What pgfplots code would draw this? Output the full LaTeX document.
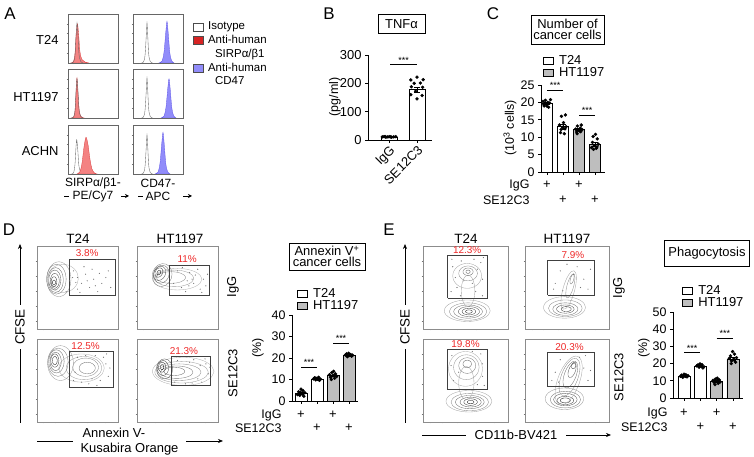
\documentclass[border=0pt]{standalone}
\usepackage{pgfplots}
\pgfplotsset{compat=1.18}
\usepackage{pgfplotstable}
\usepackage{fontspec}
\setmainfont{Liberation Sans}
\usetikzlibrary{arrows.meta}

\definecolor{histred}{RGB}{244,130,130}
\definecolor{histrededge}{RGB}{215,60,60}
\definecolor{legred}{RGB}{215,35,35}
\definecolor{histblue}{RGB}{145,140,250}
\definecolor{histblueedge}{RGB}{90,80,230}
\definecolor{barfill}{RGB}{190,190,190}
\definecolor{pctred}{RGB}{238,40,40}

\newcommand{\fs}[1]{\fontsize{#1}{#1}\selectfont}

\pgfplotstableread{
x y
1 0
0.924 0.383
0.707 0.707
0.383 0.924
0 1
-0.383 0.924
-0.707 0.707
-0.924 0.383
-1 0
-0.924 -0.383
-0.707 -0.707
-0.383 -0.924
0 -1
0.383 -0.924
0.707 -0.707
0.924 -0.383
1 0
}\unitcircle

\newcommand{\cn}[6]{\addplot[draw=black!#6, line width=0.35pt, smooth, tension=0.55, forget plot] table[x expr={#1+#3*\thisrow{x}*cos(#5)-#4*\thisrow{y}*sin(#5)}, y expr={#2+#3*\thisrow{x}*sin(#5)+#4*\thisrow{y}*cos(#5)}] {\unitcircle};}
\newcommand{\sig}[3]{\draw[line width=0.5pt] (axis cs:#1,#3) -- (axis cs:#2,#3) node[midway, above, inner sep=0.8bp, font=\fs{9}] {***};}
\newcommand{\pct}[3]{\node[text=pctred, font=\fs{10}] at (axis cs:#1,#2) {#3};}
\newcommand{\plus}[2]{\node[font=\fs{13}, yshift=#2] at (axis cs:#1,0) {+};}
\newcommand{\barlegend}{%
\addlegendimage{legend image code/.code={\draw[fill=white, draw=black, line width=0.5pt] (0bp,-3.5bp) rectangle (10bp,3.5bp);}}
\addlegendentry{T24}
\addlegendimage{legend image code/.code={\draw[fill=barfill, draw=black, line width=0.5pt] (0bp,-3.5bp) rectangle (10bp,3.5bp);}}
\addlegendentry{HT1197}}

\pgfplotsset{
  hist/.style={scale only axis, width=50bp, height=49bp, xmin=0, xmax=1, ymin=0, ymax=1,
    axis line style={black!60, line width=0.4pt},
    xtick={0.1,0.3,0.5,0.7,0.9}, ytick={0.2,0.4,0.6,0.8}, xticklabels={}, yticklabels={},
    tick pos=left, tick align=outside, major tick length=1.2bp, tick style={black!55, line width=0.3pt}},
  flow/.style={scale only axis, height=83bp, xmin=0, xmax=100, ymin=0, ymax=100,
    axis line style={black!45, line width=0.4pt},
    xtick={8,22,40,62,84}, ytick={10,28,46,64,82}, xticklabels={}, yticklabels={},
    tick pos=left, tick align=outside, major tick length=1.3bp, tick style={black!55, line width=0.3pt}},
  barax/.style={scale only axis, axis x line*=bottom, axis y line*=left, ymin=0,
    xtick={0,1,2,3}, xticklabels={}, tick align=outside, major tick length=3bp,
    tick style={black, line width=0.6pt}, axis line style={black, line width=0.6pt},
    ticklabel style={font=\fs{12.5}}, /pgf/number format/assume math mode=true, clip=false},
  t24bar/.style={ybar, bar width=#1, bar shift=0pt, fill=white, draw=black, line width=0.5pt, forget plot},
  htbar/.style={ybar, bar width=#1, bar shift=0pt, fill=barfill, draw=black, line width=0.5pt, forget plot},
  dots/.style={only marks, mark=*, mark size=1.5bp, black, forget plot},
  sem/.style={draw=none, mark=none, forget plot, error bars/.cd, y dir=both, y explicit, error bar style={line width=0.5pt, black}, error mark options={rotate=90, mark size=3bp, black, line width=0.5pt}},
  fdots/.style={only marks, mark=*, mark size=0.3bp, black!55, forget plot},
  gate/.style={black!75, line width=0.45pt, forget plot},
  barleg/.style={legend style={at={#1}, anchor=north west, draw=none, fill=none, font=\fs{13}, inner sep=0pt, row sep=-2.5bp, cells={anchor=west}, /tikz/every odd column/.append style={column sep=3.5bp}}},
}

\begin{document}
\begin{tikzpicture}[x=1bp, y=1bp]
\useasboundingbox (0,0) rectangle (754,457);

% ===================== Panel A =====================
\node[font=\fs{17}] at (10,443) {A};
\node[anchor=east, font=\fs{13}] at (62,417) {T24};
\node[anchor=east, font=\fs{13}] at (62,360) {HT1197};
\node[anchor=east, font=\fs{13}] at (62,306) {ACHN};

% T24 SIRP
\begin{axis}[hist, at={(68bp,394bp)}, anchor=south west]
\addplot[fill=histred, draw=histrededge, line width=0.3pt, smooth] coordinates {(0.06,0)(0.11,0.03)(0.14,0.2)(0.165,0.6)(0.19,0.8)(0.215,0.55)(0.24,0.22)(0.28,0.07)(0.34,0.02)(0.42,0)} \closedcycle;
\addplot[draw=black!60, line width=0.35pt, smooth] coordinates {(0.06,0)(0.11,0.02)(0.14,0.15)(0.16,0.55)(0.18,0.82)(0.2,0.55)(0.22,0.18)(0.25,0.04)(0.3,0)};
\end{axis}
% T24 CD47 (with legend)
\begin{axis}[hist, at={(133bp,394bp)}, anchor=south west,
  legend style={at={(1.2,0.88)}, anchor=north west, draw=none, fill=none, font=\fs{11.5}, inner sep=0pt, row sep=0bp, cells={anchor=west}, /tikz/every odd column/.append style={column sep=2.5bp}}]
\addplot[draw=black!60, line width=0.35pt, smooth, forget plot] coordinates {(0.17,0)(0.21,0.02)(0.24,0.15)(0.265,0.55)(0.28,0.82)(0.295,0.55)(0.315,0.17)(0.345,0.03)(0.39,0)};
\addplot[fill=histblue, draw=histblueedge, line width=0.3pt, smooth, forget plot] coordinates {(0.52,0)(0.58,0.04)(0.62,0.22)(0.655,0.62)(0.68,0.85)(0.705,0.6)(0.735,0.22)(0.77,0.05)(0.82,0)} \closedcycle;
\addlegendimage{legend image code/.code={\draw[fill=white, draw=black!70, line width=0.4pt] (0bp,-4bp) rectangle (10bp,4bp);}}
\addlegendentry{Isotype}
\addlegendimage{legend image code/.code={\draw[fill=legred, draw=black!70, line width=0.4pt] (0bp,-4bp) rectangle (10bp,4bp);}}
\addlegendentry{Anti-human}
\addlegendimage{legend image code/.code={}}
\addlegendentry{\hspace*{7bp}SIRPα/β1}
\addlegendimage{legend image code/.code={\draw[fill=histblue, draw=black!70, line width=0.4pt] (0bp,-4bp) rectangle (10bp,4bp);}}
\addlegendentry{Anti-human}
\addlegendimage{legend image code/.code={}}
\addlegendentry{\hspace*{7bp}CD47}
\end{axis}
% HT1197 SIRP
\begin{axis}[hist, at={(68bp,339bp)}, anchor=south west]
\addplot[fill=histred, draw=histrededge, line width=0.3pt, smooth] coordinates {(0.07,0)(0.12,0.03)(0.145,0.2)(0.165,0.6)(0.18,0.82)(0.2,0.5)(0.225,0.15)(0.26,0.03)(0.32,0)} \closedcycle;
\addplot[draw=black!60, line width=0.35pt, smooth] coordinates {(0.06,0)(0.11,0.02)(0.14,0.15)(0.16,0.55)(0.18,0.8)(0.2,0.55)(0.22,0.18)(0.25,0.04)(0.3,0)};
\end{axis}
% HT1197 CD47
\begin{axis}[hist, at={(133bp,339bp)}, anchor=south west]
\addplot[draw=black!60, line width=0.35pt, smooth] coordinates {(0.17,0)(0.21,0.02)(0.24,0.15)(0.265,0.55)(0.28,0.82)(0.295,0.55)(0.315,0.17)(0.345,0.03)(0.39,0)};
\addplot[fill=histblue, draw=histblueedge, line width=0.3pt, smooth] coordinates {(0.56,0)(0.62,0.04)(0.66,0.22)(0.695,0.6)(0.72,0.8)(0.745,0.58)(0.775,0.22)(0.81,0.05)(0.86,0)} \closedcycle;
\end{axis}
% ACHN SIRP
\begin{axis}[hist, at={(68bp,283bp)}, anchor=south west]
\addplot[draw=black!60, line width=0.35pt, smooth] coordinates {(0.06,0)(0.11,0.02)(0.14,0.2)(0.16,0.55)(0.175,0.7)(0.195,0.5)(0.22,0.15)(0.26,0.03)(0.3,0)};
\addplot[fill=histred, draw=histrededge, line width=0.3pt, smooth] coordinates {(0.18,0)(0.24,0.05)(0.28,0.22)(0.32,0.55)(0.36,0.75)(0.4,0.6)(0.44,0.3)(0.48,0.1)(0.53,0.02)(0.58,0)} \closedcycle;
\end{axis}
% ACHN CD47
\begin{axis}[hist, at={(133bp,283bp)}, anchor=south west]
\addplot[draw=black!60, line width=0.35pt, smooth] coordinates {(0.17,0)(0.21,0.02)(0.24,0.15)(0.265,0.55)(0.28,0.8)(0.295,0.55)(0.315,0.17)(0.345,0.03)(0.39,0)};
\addplot[fill=histblue, draw=histblueedge, line width=0.3pt, smooth] coordinates {(0.44,0)(0.5,0.04)(0.54,0.22)(0.575,0.62)(0.6,0.85)(0.625,0.6)(0.655,0.22)(0.69,0.05)(0.74,0)} \closedcycle;
\end{axis}

\node[font=\fs{12}] at (93,274) {SIRPα/β1-};
\node[font=\fs{12}] at (93,261) {PE/Cy7};
\draw[line width=0.6pt] (64,261) -- (69,261);
\draw[line width=0.6pt, -{Stealth[length=4bp,width=4bp]}] (121,261) -- (129,261);
\node[font=\fs{12}] at (158,274) {CD47-};
\node[font=\fs{12}] at (158,261) {APC};
\draw[line width=0.6pt] (138,261) -- (143,261);
\draw[line width=0.6pt, -{Stealth[length=4bp,width=4bp]}] (183,261) -- (192,261);

% ===================== Panel B =====================
\node[font=\fs{17}] at (329,443) {B};
\node[draw, line width=0.6pt, font=\fs{13}, minimum width=47bp, minimum height=19bp, inner sep=1bp] at (401.5,433) {TNFα};
\node[rotate=90, font=\fs{12.5}] at (335,360) {(pg/ml)};
\begin{axis}[barax, at={(368bp,317bp)}, anchor=south west, width=64bp, height=85bp,
  xmin=-0.75, xmax=1.536, ymax=300, ytick={0,100,200,300}, xtick={0,1}, xticklabels={IgG,SE12C3},
  ticklabel style={font=\fs{13}},
  x tick label style={rotate=45, anchor=north east, inner sep=1bp}]
\addplot[t24bar=16bp] coordinates {(0,11) (1,178)};
\addplot[sem] coordinates {(0,11) +- (0,1) (1,178) +- (0,8)};
\addplot[dots] coordinates {(-0.24,11)(-0.18,12)(-0.11,10)(-0.04,11)(0.03,12)(0.1,10)(0.17,11)(0.24,12)(-0.14,12)(0.07,10)};
\addplot[dots] coordinates {(1.0,222)(0.78,212)(1.22,213)(0.9,200)(1.12,201)(0.8,188)(1.2,186)(0.95,172)(0.78,160)(1.18,157)(1.0,145)};
\sig{0.05}{1}{268}
\end{axis}

% ===================== Panel C =====================
\node[font=\fs{17}] at (493,443) {C};
\node[draw, line width=0.6pt, font=\fs{13}, align=center, minimum width=73bp, minimum height=29bp, inner sep=1.5bp] at (567.5,427.5) {Number of\\[-2.5bp]cancer cells};
\node[rotate=90, font=\fs{12.5}] at (510,329) {(10\textsuperscript{3} cells)};
\node[anchor=east, font=\fs{12.5}] at (533,272) {IgG};
\node[anchor=east, font=\fs{12.5}] at (533,257) {SE12C3};
\begin{axis}[barax, at={(541bp,285bp)}, anchor=south west, width=64bp, height=87bp,
  xmin=-0.375, xmax=3.625, ymax=25, ytick={0,5,...,25}, barleg={(0.03,1.37)}]
\addplot[t24bar=11bp] coordinates {(0,19.7) (1,13.0)};
\addplot[htbar=11bp] coordinates {(2,12.2) (3,8.0)};
\addplot[sem] coordinates {(0,19.7) +- (0,0.3) (1,13.0) +- (0,0.6) (2,12.2) +- (0,0.3) (3,8.0) +- (0,0.5)};
\addplot[dots] coordinates {(-0.25,20.3)(-0.18,19.0)(-0.1,20.6)(-0.03,19.6)(0.04,20.0)(0.1,18.6)(0.16,19.8)(0.22,20.8)(-0.2,19.5)(0.0,18.9)};
\addplot[dots] coordinates {(0.78,13.5)(0.84,11.3)(0.9,16.0)(0.97,12.8)(1.03,14.2)(1.08,11.0)(1.15,16.4)(1.2,13.0)(0.88,12.2)(1.12,12.4)};
\addplot[dots] coordinates {(1.78,12.3)(1.85,11.5)(1.9,13.2)(1.96,12.0)(2.03,11.8)(2.08,12.6)(2.14,13.5)(2.2,12.2)(1.88,11.0)(2.1,11.6)};
\addplot[dots] coordinates {(2.78,7.0)(2.84,8.5)(2.9,6.5)(2.96,7.6)(3.03,10.8)(3.08,6.8)(3.14,9.5)(3.2,8.0)(2.88,10.2)(3.12,7.2)};
\sig{0}{1}{23.6}
\sig{2}{3}{16.4}
\plus{0}{-13bp}\plus{2}{-13bp}\plus{1}{-28bp}\plus{3}{-28bp}
\barlegend
\end{axis}

% ===================== Panel D =====================
\node[font=\fs{17}] at (9,227) {D};
\node[font=\fs{13.5}] at (78,218) {T24};
\node[font=\fs{13.5}] at (180,218) {HT1197};
\node[rotate=90, font=\fs{13}] at (233,170) {IgG};
\node[rotate=90, font=\fs{13}] at (233,84) {SE12C3};
\node[rotate=90, font=\fs{13.5}] at (20,130) {CFSE};
\draw[line width=0.6pt] (20,34) -- (20,108);
\draw[line width=0.6pt, -{Stealth[length=5bp,width=4bp]}] (20,152) -- (20,213);
\node[anchor=west, font=\fs{13}] at (79,24) {Annexin V-};
\node[anchor=west, font=\fs{13}] at (77,8) {Kusabira Orange};
\draw[line width=0.6pt] (37,16) -- (73,16);
\draw[line width=0.6pt, -{Stealth[length=5bp,width=4bp]}] (186,16) -- (223,16);

% D1 T24 IgG
\begin{axis}[flow, width=81bp, at={(37bp,128bp)}, anchor=south west]
\cn{32}{61}{19}{17}{0}{30}
\cn{27}{60}{15}{21}{0}{40}
\cn{24}{60}{12}{18}{0}{50}
\cn{23}{59}{9.5}{15}{0}{55}
\cn{22}{59}{7.5}{12}{0}{62}
\cn{22}{58}{5.5}{9}{0}{70}
\cn{21}{57}{3.5}{6}{0}{78}
\cn{21}{56}{1.8}{3}{0}{88}
\addplot[fdots] coordinates {(45,70)(50,62)(55,55)(60,66)(65,50)(70,60)(75,45)(80,55)(58,75)(68,72)(85,62)(50,48)(62,58)(72,52)(48,56)(88,70)(44,62)(53,44)(91,50)(77,67)(40,58)(36,45)};
\addplot[gate] coordinates {(40,41)(96,41)(96,84)(40,84)(40,41)};
\pct{62}{91}{3.8\%}
\end{axis}
% D2 HT1197 IgG
\begin{axis}[flow, width=81bp, at={(137bp,128bp)}, anchor=south west]
\cn{50}{60}{30}{13}{0}{30}
\cn{46}{61}{24}{10}{0}{38}
\cn{42}{62}{18}{7}{0}{45}
\cn{31}{65}{12}{14}{-20}{50}
\cn{30}{66}{9.5}{11}{-25}{58}
\cn{28}{67}{7}{9}{-30}{66}
\cn{27}{68}{4.5}{6}{-30}{76}
\cn{27}{68}{2}{3}{-30}{88}
\addplot[fdots] coordinates {(55,50)(62,58)(70,55)(78,48)(65,68)(82,60)(50,70)(72,65)(60,45)(85,52)(45,55)(68,60)(75,72)(87,66)(56,74)(80,44)(64,52)};
\addplot[gate] coordinates {(40,41)(89,41)(89,77)(40,77)(40,41)};
\pct{62}{84}{11\%}
\end{axis}
% D3 T24 SE12C3
\begin{axis}[flow, width=81bp, at={(37bp,35bp)}, anchor=south west]
\cn{55}{65}{28}{17}{0}{30}
\cn{58}{65}{22}{14}{0}{38}
\cn{60}{66}{16}{11}{0}{45}
\cn{62}{65}{10}{7}{0}{55}
\cn{29}{71}{16}{21}{0}{38}
\cn{26}{72}{12.5}{17}{0}{48}
\cn{24}{73}{9.5}{14}{0}{56}
\cn{23}{73}{7}{11}{0}{64}
\cn{22}{74}{5}{8}{0}{72}
\cn{22}{74}{3}{5}{0}{82}
\addplot[fdots] coordinates {(45,50)(50,78)(72,80)(85,70)(88,55)(78,50)(55,48)(68,52)(47,60)(82,78)(90,65)(60,80)(64,46)(42,80)(74,44)(86,82)};
\addplot[gate] coordinates {(40,42)(94,42)(94,85)(40,85)(40,42)};
\pct{60}{92}{12.5\%}
\end{axis}
% D4 HT1197 SE12C3
\begin{axis}[flow, width=81bp, at={(137bp,35bp)}, anchor=south west]
\cn{57}{61}{38}{17}{0}{30}
\cn{55}{60}{33}{13}{0}{38}
\cn{52}{60}{27}{10}{0}{45}
\cn{49}{60}{20}{7.5}{0}{52}
\cn{46}{61}{13}{5}{0}{58}
\cn{34}{64}{10}{12}{0}{60}
\cn{32}{65}{7}{9}{0}{70}
\cn{31}{66}{4.5}{6}{0}{80}
\cn{31}{66}{2}{3}{0}{90}
\addplot[fdots] coordinates {(80,48)(85,70)(70,75)(88,58)(60,46)(75,52)(65,72)(90,66)(50,74)(78,68)(46,48)(84,76)(68,47)};
\addplot[gate] coordinates {(42,44)(91,44)(91,79)(42,79)(42,44)};
\pct{58}{86}{21.3\%}
\end{axis}

% D bar chart
\node[draw, line width=0.6pt, font=\fs{13}, align=center, minimum width=76bp, minimum height=27bp, inner sep=1bp] at (327,200.5) {Annexin V\textsuperscript{+}\\[-2.5bp]cancer cells};
\node[rotate=90, font=\fs{12.5}] at (258,109) {(\%)};
\node[anchor=east, font=\fs{12.5}] at (285,42) {IgG};
\node[anchor=east, font=\fs{12.5}] at (285,29) {SE12C3};
\begin{axis}[barax, at={(292bp,56bp)}, anchor=south west, width=66bp, height=86bp,
  xmin=-0.5625, xmax=3.5625, ymax=40, ytick={0,10,...,40}, barleg={(0.075,1.33)}]
\addplot[t24bar=12bp] coordinates {(0,3.6) (1,10.2)};
\addplot[htbar=12bp] coordinates {(2,11.8) (3,21.3)};
\addplot[sem] coordinates {(0,3.6) +- (0,0.4) (1,10.2) +- (0,0.2) (2,11.8) +- (0,0.4) (3,21.3) +- (0,0.2)};
\addplot[dots] coordinates {(-0.22,3.0)(-0.15,4.3)(-0.08,2.6)(0.0,5.5)(0.05,3.5)(0.12,4.8)(0.18,2.2)(0.24,3.8)(-0.04,4.0)(0.09,3.2)};
\addplot[dots] coordinates {(0.78,10.3)(0.85,10.8)(0.92,9.8)(0.98,10.5)(1.04,10.1)(1.1,11.0)(1.16,9.6)(1.22,10.2)(0.9,10.6)(1.08,10.0)};
\addplot[dots] coordinates {(1.78,12.2)(1.85,11.0)(1.92,13.2)(1.98,11.8)(2.04,13.8)(2.1,10.6)(2.16,12.6)(2.22,11.4)(1.9,10.0)(2.06,12.0)};
\addplot[dots] coordinates {(2.78,21.4)(2.85,21.9)(2.92,21.0)(2.98,22.2)(3.04,21.2)(3.1,21.6)(3.16,20.8)(3.22,21.3)(2.9,20.6)(3.08,21.5)};
\sig{0}{1}{15.8}
\sig{2}{3}{27}
\plus{0}{-14bp}\plus{2}{-14bp}\plus{1}{-27bp}\plus{3}{-27bp}
\barlegend
\end{axis}

% ===================== Panel E =====================
\node[font=\fs{17}] at (389,227) {E};
\node[font=\fs{13.5}] at (466,218) {T24};
\node[font=\fs{13.5}] at (567,218) {HT1197};
\node[rotate=90, font=\fs{13}] at (619,169) {IgG};
\node[rotate=90, font=\fs{13}] at (619,80) {SE12C3};
\node[rotate=90, font=\fs{13.5}] at (405,130) {CFSE};
\draw[line width=0.6pt] (405,34) -- (405,108);
\draw[line width=0.6pt, -{Stealth[length=5bp,width=4bp]}] (405,152) -- (405,213);
\node[font=\fs{13}] at (516,22) {CD11b-BV421};
\draw[line width=0.6pt] (422,22) -- (466,22);
\draw[line width=0.6pt, -{Stealth[length=5bp,width=4bp]}] (566,22) -- (611,22);

% E1 T24 IgG
\begin{axis}[flow, width=85bp, at={(423bp,128bp)}, anchor=south west]
\cn{52}{22}{27}{13}{0}{35}
\cn{53}{21}{22}{10.5}{0}{45}
\cn{53}{21}{17}{8}{0}{55}
\cn{54}{21}{12.5}{6}{0}{65}
\cn{54}{21}{8}{4}{0}{75}
\cn{54}{21}{4}{2}{0}{88}
\cn{53}{46}{8}{19}{0}{35}
\cn{52}{64}{17}{15}{0}{35}
\cn{53}{67}{11}{9}{0}{45}
\cn{53}{69}{6}{4.5}{0}{55}
\cn{53}{69}{2.5}{2}{0}{65}
\addplot[fdots] coordinates {(35,75)(68,80)(40,50)(62,45)(70,60)(38,62)(64,72)(45,82)(70,40)(33,45)(58,55)(44,40)(34,84)(71,86)(48,58)(60,84)};
\addplot[gate] coordinates {(29,37)(75,37)(75,89)(29,89)(29,37)};
\pct{52}{95}{12.3\%}
\end{axis}
% E2 HT1197 IgG
\begin{axis}[flow, width=84bp, at={(525bp,128bp)}, anchor=south west]
\cn{47}{26}{25}{13}{0}{35}
\cn{48}{25}{20}{10}{0}{45}
\cn{48}{24}{15}{7.5}{0}{55}
\cn{48}{24}{10.5}{5}{0}{68}
\cn{49}{24}{6}{3}{0}{80}
\cn{52}{47}{7}{24}{-15}{35}
\cn{54}{52}{4}{15}{-15}{45}
\cn{56}{60}{2}{6}{-15}{55}
\addplot[fdots] coordinates {(36,55)(70,60)(62,75)(42,70)(75,48)(50,78)(66,50)(34,48)(78,72)(58,66)(45,46)};
\addplot[gate] coordinates {(27,41)(82,41)(82,83)(27,83)(27,41)};
\pct{57}{89}{7.9\%}
\end{axis}
% E3 T24 SE12C3
\begin{axis}[flow, width=85bp, at={(423bp,35bp)}, anchor=south west]
\cn{54}{25}{27}{13}{0}{35}
\cn{55}{24}{22}{10.5}{0}{45}
\cn{55}{24}{17}{8}{0}{55}
\cn{56}{24}{12.5}{6}{0}{65}
\cn{56}{24}{8}{4}{0}{75}
\cn{56}{24}{4}{2}{0}{88}
\cn{51}{47}{9}{20}{0}{35}
\cn{50}{64}{20}{21}{0}{32}
\cn{51}{66}{15}{15}{0}{40}
\cn{52}{68}{10}{9.5}{0}{50}
\cn{52}{70}{5}{4.5}{0}{60}
\addplot[fdots] coordinates {(34,80)(68,82)(70,55)(36,50)(64,45)(42,60)(70,70)(58,85)(33,68)(72,44)};
\addplot[gate] coordinates {(29,39)(75,39)(75,88)(29,88)(29,39)};
\pct{50}{94}{19.8\%}
\end{axis}
% E4 HT1197 SE12C3
\begin{axis}[flow, width=84bp, at={(525bp,35bp)}, anchor=south west]
\cn{47}{28}{23}{13}{0}{40}
\cn{48}{27}{18}{10}{0}{52}
\cn{48}{27}{14}{7.5}{0}{64}
\cn{48}{26}{10}{5}{0}{76}
\cn{48}{26}{6}{3}{0}{88}
\cn{52}{50}{13}{31}{-20}{35}
\cn{53}{54}{10}{24}{-20}{45}
\cn{54}{57}{7}{17}{-20}{55}
\cn{56}{62}{4}{9}{-20}{65}
\cn{58}{68}{2.5}{4}{-20}{75}
\addplot[fdots] coordinates {(36,60)(70,65)(65,78)(42,75)(75,50)(32,50)(72,80)(78,62)(40,48)};
\addplot[gate] coordinates {(26,43)(82,43)(82,84)(26,84)(26,43)};
\pct{53}{90}{20.3\%}
\end{axis}

% E bar chart
\node[draw, line width=0.6pt, font=\fs{13}, minimum width=85bp, minimum height=26bp, inner sep=1bp] at (707,203.5) {Phagocytosis};
\node[rotate=90, font=\fs{12.5}] at (644,109) {(\%)};
\node[anchor=east, font=\fs{12.5}] at (671,44) {IgG};
\node[anchor=east, font=\fs{12.5}] at (671,30) {SE12C3};
\begin{axis}[barax, at={(673bp,59bp)}, anchor=south west, width=70bp, height=86bp,
  xmin=-0.675, xmax=3.62, ymax=50, ytick={0,10,...,50}, barleg={(0.13,1.33)}]
\addplot[t24bar=12bp] coordinates {(0,12.8) (1,18.5)};
\addplot[htbar=12bp] coordinates {(2,9.8) (3,22.8)};
\addplot[sem] coordinates {(0,12.8) +- (0,0.2) (1,18.5) +- (0,0.3) (2,9.8) +- (0,0.4) (3,22.8) +- (0,0.8)};
\addplot[dots] coordinates {(-0.22,12.6)(-0.15,13.3)(-0.08,12.0)(0.0,13.8)(0.05,12.8)(0.12,13.5)(0.18,12.3)(0.24,13.0)(-0.04,12.9)(0.09,12.6)};
\addplot[dots] coordinates {(0.78,18.7)(0.85,19.2)(0.92,17.9)(0.98,19.8)(1.04,18.5)(1.1,19.4)(1.16,17.5)(1.22,18.2)(0.9,19.0)(1.08,18.6)};
\addplot[dots] coordinates {(1.78,10.2)(1.85,9.0)(1.92,11.0)(1.98,9.8)(2.04,11.5)(2.1,8.5)(2.16,10.6)(2.22,9.4)(1.9,7.8)(2.06,10.0)};
\addplot[dots] coordinates {(2.78,23.0)(2.85,24.5)(2.92,21.5)(2.98,27.0)(3.04,22.5)(3.1,25.5)(3.16,20.8)(3.22,23.5)(2.9,20.0)(3.08,22.0)};
\sig{0}{1}{26.7}
\sig{2}{3}{34.9}
\plus{0}{-15bp}\plus{2}{-15bp}\plus{1}{-29bp}\plus{3}{-29bp}
\barlegend
\end{axis}

\end{tikzpicture}
\end{document}
